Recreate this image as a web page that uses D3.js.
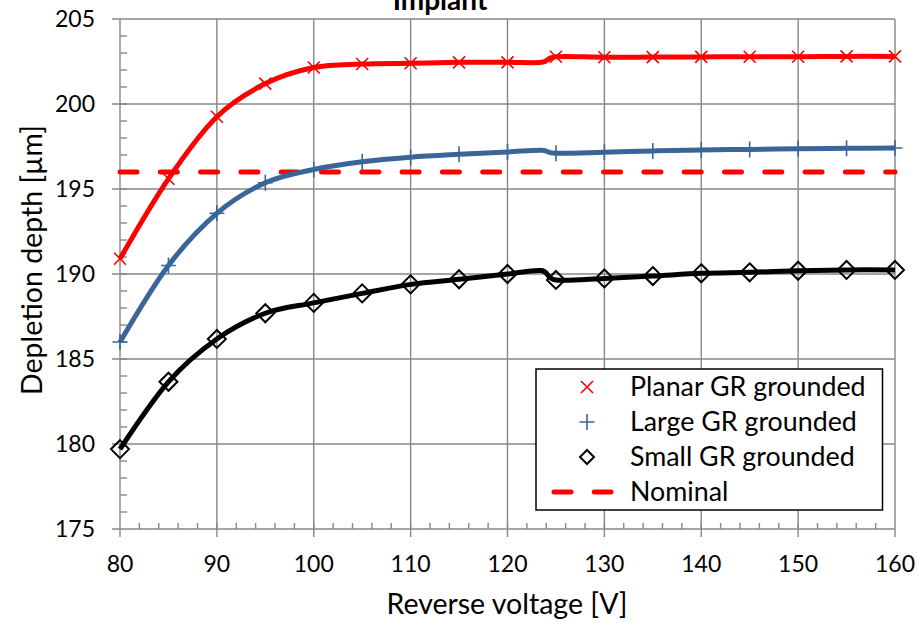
<!DOCTYPE html>
<meta charset="utf-8">
<style>
body { margin: 0; background: #fff; }
text { font-family: Lato, "Open Sans", sans-serif; fill: #000; }
.grid line { stroke: #878787; stroke-width: 1.4px; }
.tick-lbl { font-size: 23px; }
.axis-title { font-size: 28.5px; }
.legend text { font-size: 26.8px; }
</style>
<svg width="918" height="623"></svg>
<script src="https://d3js.org/d3.v7.min.js"></script>
<script>

// measured voltages (the 123.5 point is a join between two runs, no marker)
var voltages = [80, 85, 90, 95, 100, 105, 110, 115, 120, 123.5, 125, 130, 135, 140, 145, 150, 155, 160]
var planarGR = [190.9, 195.6, 199.25, 201.2, 202.15, 202.35, 202.4, 202.45, 202.45, 202.45, 202.78, 202.75, 202.76, 202.77, 202.78, 202.78, 202.8, 202.8]
var largeGR  = [186.0, 190.5, 193.57, 195.37, 196.15, 196.6, 196.87, 197.04, 197.18, 197.28, 197.1, 197.16, 197.24, 197.3, 197.33, 197.37, 197.39, 197.41]
var smallGR  = [179.7, 183.66, 186.18, 187.69, 188.3, 188.86, 189.39, 189.69, 190.0, 190.2, 189.65, 189.74, 189.88, 190.04, 190.1, 190.19, 190.24, 190.24]
var nominal = 196

var xTicks = [80, 90, 100, 110, 120, 130, 140, 150, 160]
var yTicks = [175, 180, 185, 190, 195, 200, 205]
var legendNames = ["Planar GR grounded", "Large GR grounded", "Small GR grounded", "Nominal"]

var svg = d3.select("svg")
var x = d3.scaleLinear().domain([80, 160]).range([120, 895])
var y = d3.scaleLinear().domain([175, 205]).range([529, 19])

// title (mostly cut off at the top, as in the original)
svg.append("text").attr("x", 440).attr("y", 10).attr("text-anchor", "middle")
  .style("font-size", "28px").style("font-weight", "bold").text("Implant")

// grid
var grid = svg.append("g").attr("class", "grid")
grid.selectAll(".v").data(xTicks).enter().append("line")
  .attr("x1", d => x(d)).attr("x2", d => x(d)).attr("y1", y(205)).attr("y2", y(175) + 8)
grid.selectAll(".h").data(yTicks).enter().append("line")
  .attr("x1", x(80) - 8).attr("x2", x(160)).attr("y1", d => y(d)).attr("y2", d => y(d))

// minor ticks
grid.selectAll(".my").data(d3.range(176, 205)).enter().append("line")
  .attr("x1", x(80)).attr("x2", x(80) + 7).attr("y1", d => y(d)).attr("y2", d => y(d))
grid.selectAll(".mx").data(d3.range(82, 160, 2)).enter().append("line")
  .attr("x1", d => x(d)).attr("x2", d => x(d)).attr("y1", y(175)).attr("y2", y(175) - 6)

// tick labels
svg.selectAll(".xl").data(xTicks).enter().append("text").attr("class", "tick-lbl")
  .attr("x", d => x(d)).attr("y", 572).attr("text-anchor", "middle").text(d => d)
svg.selectAll(".yl").data(yTicks).enter().append("text").attr("class", "tick-lbl")
  .attr("x", 95).attr("y", d => y(d) + 8).attr("text-anchor", "end").text(d => d)

svg.append("text").attr("class", "axis-title").attr("x", 507).attr("y", 614)
  .attr("text-anchor", "middle").text("Reverse voltage [V]")
svg.append("text").attr("class", "axis-title")
  .attr("transform", "translate(42,260) rotate(-90)")
  .attr("text-anchor", "middle").text("Depletion depth [µm]")

// nominal
svg.append("line")
  .attr("x1", x(80)).attr("x2", x(160)).attr("y1", y(nominal)).attr("y2", y(nominal))
  .attr("stroke", "red").attr("stroke-width", 5).attr("stroke-linecap", "round")
  .attr("stroke-dasharray", "17,23.3")

var line = d3.line().x(d => x(d[0])).y(d => y(d[1])).curve(d3.curveCardinal.tension(0))

function marker(g, type, color) {
  if (type == "x") {
    g.append("path").attr("d", "M-6,-6L6,6M-6,6L6,-6").attr("stroke", color).attr("stroke-width", 1.6).attr("fill", "none")
  } else if (type == "plus") {
    g.append("path").attr("d", "M-7.5,0L7.5,0M0,-8L0,8").attr("stroke", color).attr("stroke-width", 1.6).attr("fill", "none")
  } else {
    g.append("path").attr("d", "M0,-9L9,0L0,9L-9,0Z").attr("stroke", color).attr("stroke-width", 2).attr("fill", "none")
  }
}

var series = [
  {vals: planarGR, color: "#ff0000", m: "x"},
  {vals: largeGR, color: "#3a6599", m: "plus"},
  {vals: smallGR, color: "#000000", m: "diamond"}
]

series.forEach(function(s) {
  var pts = voltages.map((v, i) => [v, s.vals[i]])
  svg.append("path").datum(pts).attr("d", line)
    .attr("fill", "none").attr("stroke", s.color).attr("stroke-width", 5)
    .attr("stroke-linejoin", "round")
  svg.selectAll(null).data(pts.filter(p => p[0] % 5 == 0)).enter().append("g")
    .attr("transform", p => "translate(" + x(p[0]) + "," + y(p[1]) + ")")
    .each(function() { marker(d3.select(this), s.m, s.color) })
})

// legend
var lg = svg.append("g").attr("class", "legend")
lg.append("rect").attr("x", 536).attr("y", 369).attr("width", 346.5).attr("height", 141)
  .attr("fill", "#fff").attr("stroke", "#000").attr("stroke-width", 1.5)
legendNames.forEach(function(name, i) {
  var cy = 387 + i * 35
  if (i < 3) {
    var g = lg.append("g").attr("transform", "translate(587," + cy + ")")
    marker(g, series[i].m, series[i].color)
    if (i == 2) g.select("path").attr("d", "M0,-7L7,0L0,7L-7,0Z")
  } else {
    lg.append("line").attr("x1", 554).attr("x2", 611).attr("y1", cy).attr("y2", cy)
      .attr("stroke", "red").attr("stroke-width", 5).attr("stroke-linecap", "round")
      .attr("stroke-dasharray", "17,23.3")
  }
  lg.append("text").attr("x", 630).attr("y", cy + 9).text(name)
})

</script>
